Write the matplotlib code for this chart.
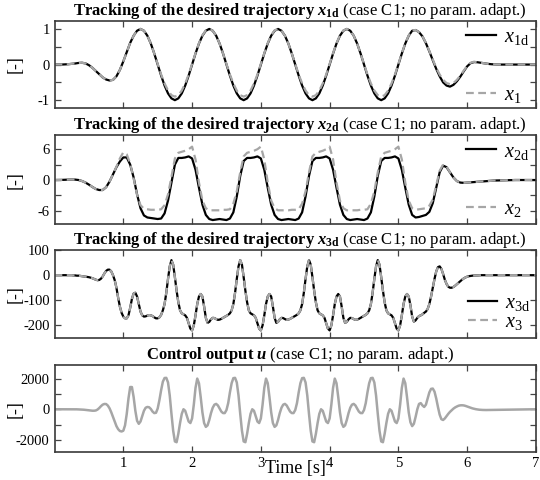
import numpy as np
import matplotlib
matplotlib.use("Agg")
import matplotlib.pyplot as plt
from matplotlib.ticker import FixedLocator

plt.rcParams['font.family'] = 'Liberation Serif'
plt.rcParams['mathtext.fontset'] = 'custom'
plt.rcParams['mathtext.rm'] = 'Liberation Serif'
plt.rcParams['mathtext.it'] = 'Liberation Serif:italic'
plt.rcParams['mathtext.bf'] = 'Liberation Serif:bold'
plt.rcParams['mathtext.bfit'] = 'Liberation Serif:italic:bold'
plt.rcParams['axes.unicode_minus'] = False

# time grids: 0.05 s for x1, x2 and 0.025 s for x3, u
t_coarse = np.linspace(0, 7, 141)
t_fine = np.linspace(0, 7, 281)

# x1d / x1  (0.00..1.20, one period from 1.25, 5.25..7.00)
x1d_start = [0, 0, 0, 0.005, 0.01, 0.02, 0.03, 0.045, 0.05, 0.033, -0.017, -0.09, -0.18,
             -0.27, -0.36, -0.42, -0.447, -0.43, -0.33, -0.15, 0.09, 0.35, 0.61, 0.81, 0.95]
x1d_cycle = [1.00, 0.95, 0.81, 0.59, 0.31, 0.00, -0.31, -0.59, -0.81, -0.95, -1.00, -0.95,
             -0.81, -0.59, -0.31, 0.00, 0.31, 0.59, 0.81, 0.95]
x1d_end = [0.97, 0.91, 0.79, 0.60, 0.37, 0.12, -0.12, -0.33, -0.50, -0.59, -0.62, -0.57,
           -0.47, -0.34, -0.19, -0.05, 0.04, 0.07, 0.065, 0.05, 0.035, 0.02, 0.01, 0.005,
           0, 0, 0, 0, 0, 0, 0, 0, 0, 0, 0, 0]
x1_cycle = [1.00, 0.95, 0.81, 0.59, 0.31, 0.01, -0.28, -0.53, -0.73, -0.86, -0.90, -0.86,
            -0.73, -0.53, -0.28, 0.02, 0.32, 0.60, 0.82, 0.96]
x1_end = [0.97, 0.91, 0.79, 0.61, 0.38, 0.14, -0.09, -0.28, -0.43, -0.52, -0.55, -0.52,
          -0.43, -0.31, -0.17, -0.04, 0.05, 0.08, 0.065, 0.05, 0.035, 0.02, 0.01, 0.005,
          0, 0, 0, 0, 0, 0, 0, 0, 0, 0, 0, 0]

# x2d / x2  (0.00..1.75, one period from 1.80, 4.80..7.00)
x2d_start = [0, 0, 0.02, 0.05, 0.08, 0.1, 0.08, 0.0, -0.2, -0.5, -0.9, -1.35, -1.75, -1.95,
             -1.95, -1.4, -0.3, 1.1, 2.5, 3.6, 4.4, 4.4, 3.0, 0.5, -2.8, -5.5, -6.9, -7.3,
             -7.4, -7.5, -7.6, -7.5, -6.5, -4.0, -0.5, 3.0]
x2d_cycle = [4.3, 4.3, 4.4, 4.6, 4.2, 2.0, -1.5, -4.8, -6.8, -7.6, -7.8, -7.7, -7.6, -7.7,
             -7.8, -7.5, -6.3, -3.2, 0.8, 3.7]
x2d_end = [4.3, 4.3, 4.4, 4.6, 4.2, 2.0, -1.5, -4.8, -6.8, -7.3, -7.2, -7.0, -6.8, -6.2,
           -4.5, -1.5, 1.5, 2.8, 2.5, 1.5, 0.5, -0.2, -0.5, -0.55, -0.5, -0.45, -0.4, -0.35,
           -0.3, -0.25, -0.2, -0.15, -0.1, -0.08, -0.05, -0.03, -0.02, -0.01,
           0, 0, 0, 0, 0, 0, 0]
x2_start = [0, 0, 0.02, 0.05, 0.08, 0.1, 0.08, 0.0, -0.2, -0.5, -0.9, -1.35, -1.75, -1.95,
            -1.95, -1.4, -0.3, 1.1, 2.6, 4.2, 5.4, 5.0, 3.2, 0.3, -2.9, -4.9, -5.6, -5.7,
            -5.8, -5.8, -5.8, -5.7, -4.9, -2.8, 0.6, 4.2]
x2_cycle = [5.3, 5.5, 5.7, 6.0, 6.5, 4.0, -0.5, -4.0, -5.5, -5.9, -5.9, -5.9, -5.9, -5.8,
            -5.8, -5.7, -4.6, -2.2, 1.5, 4.6]
x2_end = [5.3, 5.5, 5.7, 6.0, 6.5, 4.0, -0.5, -4.0, -5.5, -5.8, -5.7, -5.6, -5.5, -5.0,
          -3.8, -1.0, 1.8, 3.0, 2.6, 1.5, 0.5, -0.2, -0.5, -0.55, -0.5, -0.45, -0.4, -0.35,
          -0.3, -0.25, -0.2, -0.15, -0.1, -0.08, -0.05, -0.03, -0.02, -0.01,
          0, 0, 0, 0, 0, 0, 0]

# x3d (0.000..1.675, one period from 1.700, 4.700..7.000)
x3d_start = [0, 0, 0, 0, 0, 0, 0, 0, 0, 0, 0, -1, -1, -2, -2, -3, -4, -5, -6, -7, -8, -10,
             -12, -15, -18, -20, -19, -14, -5, 7, 17, 22, 22, 15, 0, -20, -50, -90, -125,
             -150, -165, -172, -172, -160, -130, -95, -73, -70, -85, -115, -145, -160, -165,
             -164, -161, -159, -160, -163, -168, -172, -172, -168, -158, -140, -115, -70,
             -15, 35]
x3d_cycle = [60, 42, -8, -62, -108, -140, -152, -156, -160, -170, -192, -213, -220, -200,
             -160, -115, -85, -75, -85, -125, -170, -190, -186, -176, -170, -171, -175,
             -178, -177, -174, -170, -166, -162, -158, -152, -140, -115, -70, -15, 35]
x3d_end = [-120, -165, -185, -180, -170, -163, -160, -156, -150, -145, -135, -115, -85, -50,
           -15, 15, 32, 35, 25, 5, -18, -35, -46, -50, -50, -47, -42, -36, -30, -24, -18,
           -13, -9, -6, -4, -3, -2, -1.5, -1, -1, -0.5,
           0, 0, 0, 0, 0, 0, 0, 0, 0, 0, 0, 0, 0, 0, 0, 0, 0, 0, 0, 0, 0, 0, 0, 0, 0, 0, 0,
           0, 0, 0, 0, 0, 0]

# u (0.000..1.600, one period from 1.625, 4.625..7.000)
u_start = [0, 0, 0, 0, 0, 0, 0, 0, 0, 0, 0, 0, 0, -5, -10, -15, -20, -30, -40, -55, -70, -85,
           -95, -95, -80, -20, 80, 200, 300, 345, 340, 240, 60, -200, -500, -820, -1100,
           -1300, -1420, -1450, -1400, -1050, -300, 700, 1450, 1450, 800, -100, -750, -950,
           -800, -450, -100, 100, 150, 130, 20, -150, -250, -230, 50, 600, 1250, 1800, 2040]
u_cycle = [2050, 1750, 900, -300, -1400, -2100, -2150, -1600, -900, -300, 0, -100, -450,
           -800, -900, -600, 300, 1400, 2000, 1700, 800, -200, -900, -1150, -1050, -700,
           -250, 100, 300, 350, 250, 50, -150, -250, -250, -50, 400, 1100, 1700, 2030]
u_end = [800, -200, -850, -1100, -950, -500, 0, 350, 400, 250, 150, 300, 700, 1100, 1330,
         1350, 1150, 700, 150, -350, -650, -700, -600, -450, -300, -170, -60, 40, 120, 180,
         230, 255, 260, 250, 220, 180, 140, 100, 60, 30, 5, -15, -30, -40, -45, -50, -50,
         -48, -46, -44, -42, -40, -38, -36, -34, -32, -30, -28, -26, -24, -22, -20, -18,
         -16, -14, -12, -10, -8, -7, -6, -5, -4, -3, -2, -1, 0]

x1d = np.array(x1d_start + x1d_cycle * 4 + x1d_end)
x1 = np.array(x1d_start + x1_cycle * 4 + x1_end)
x2d = np.array(x2d_start + x2d_cycle * 3 + x2d_end)
x2 = np.array(x2_start + x2_cycle * 3 + x2_end)
x3d = np.array(x3d_start + x3d_cycle * 3 + x3d_cycle[:19] + x3d_end)
x3 = x3d.copy()  # indistinguishable from x3d in the chart
u = np.array(u_start + u_cycle * 3 + u_cycle[:20] + u_end)

case = " (case C1; no param. adapt.)"
titles = [r"$\mathbf{Tracking\ of\ the\ desired\ trajectory}\ \mathbfit{x}_{\mathbf{1d}}$" + case,
          r"$\mathbf{Tracking\ of\ the\ desired\ trajectory}\ \mathbfit{x}_{\mathbf{2d}}$" + case,
          r"$\mathbf{Tracking\ of\ the\ desired\ trajectory}\ \mathbfit{x}_{\mathbf{3d}}$" + case,
          r"$\mathbf{Control\ output}\ \mathbfit{u}$" + case]

fig = plt.figure(figsize=(5.4, 4.8), dpi=100)
rects = [[0.101, 0.775, 0.8915, 0.181],
         [0.101, 0.533, 0.8915, 0.185],
         [0.101, 0.296, 0.8915, 0.183],
         [0.101, 0.058, 0.8915, 0.181]]
axes = [fig.add_axes(r) for r in rects]

black = dict(color='black', lw=1.6)
gray = dict(color='#a6a6a6', lw=1.6, ls=(0, (3.5, 2.0)))

axes[0].plot(t_coarse, x1d, label=r"$x_{\mathrm{1d}}$", **black)
axes[0].plot(t_coarse, x1, label=r"$x_1$", **gray)
axes[1].plot(t_coarse, x2d, label=r"$x_{\mathrm{2d}}$", **black)
axes[1].plot(t_coarse, x2, label=r"$x_2$", **gray)
axes[2].plot(t_fine, x3d, label=r"$x_{\mathrm{3d}}$", **black)
axes[2].plot(t_fine, x3, label=r"$x_3$", **gray)
axes[3].plot(t_fine, u, color='#a6a6a6', lw=1.8)

ylims = [(-1.22, 1.22), (-8.6, 8.7), (-250, 100), (-2800, 2870)]
majors = [[-1, 0, 1], [-6, 0, 6], [-200, -100, 0, 100], [-2000, 0, 2000]]
minors = [[-0.5, 0.5], [-3, 3], [], [-1000, 1000]]

for i, ax in enumerate(axes):
    ax.set_xlim(0, 7)
    ax.set_ylim(*ylims[i])
    ax.xaxis.set_major_locator(FixedLocator([1, 2, 3, 4, 5, 6, 7]))
    ax.yaxis.set_major_locator(FixedLocator(majors[i]))
    ax.yaxis.set_minor_locator(FixedLocator(minors[i]))
    ax.tick_params(which='both', direction='in', top=True, right=True, length=4,
                   width=0.9, color='#444444', labelsize=10.5, pad=3.5)
    for s in ax.spines.values():
        s.set_linewidth(1.2)
        s.set_color('#3a3a3a')
    ax.set_ylabel('[-]', fontsize=13)
    ax.yaxis.set_label_coords(-0.065, 0.5)
    ax.set_title(titles[i], fontsize=12, pad=3, x=0.51)
    if i < 3:
        ax.set_xticklabels([])

leg_style = dict(frameon=False, fontsize=14.5, handlelength=1.45, handletextpad=0.4,
                 borderpad=0.1)
axes[0].legend(loc='upper right', labelspacing=1.9, borderaxespad=0.25, **leg_style)
axes[1].legend(loc='upper right', labelspacing=1.9, borderaxespad=0.25, **leg_style)
axes[2].legend(loc='lower right', labelspacing=0.0, borderaxespad=0.2, **leg_style)

axes[3].set_xlabel('Time [s]', fontsize=13)
axes[3].xaxis.set_label_coords(0.5, -0.09)

fig.savefig('out.png', dpi=100)
